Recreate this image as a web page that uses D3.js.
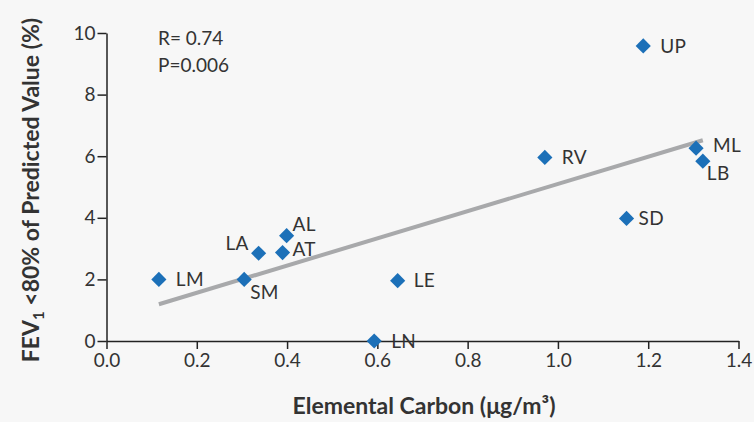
<!DOCTYPE html>
<html>
<head>
<meta charset="utf-8">
<script src="https://cdn.jsdelivr.net/npm/d3@7"></script>
<style>
  html, body { margin: 0; padding: 0; background: #f7f7f7; }
  svg { display: block; }
  text { font-family: Lato, "Open Sans", sans-serif; fill: #333; }
</style>
</head>
<body>
<svg id="chart" width="754" height="422"></svg>
<script>
// Sites, elemental carbon level and share of children with low FEV1
const sites = ["UP", "ML", "LB", "RV", "SD", "LE", "LN", "SM", "LM", "LA", "AT", "AL"];
const carbon = [1.189, 1.306, 1.321, 0.971, 1.152, 0.645, 0.593, 0.305, 0.116, 0.337, 0.390, 0.399];
const fevLow = [9.58, 6.26, 5.84, 5.96, 3.98, 1.96, 0.0, 2.0, 2.0, 2.85, 2.87, 3.42];

// Label placement per site: [dx, dy, anchor]
const labelPos = {
  UP: [17, 0, "start"], ML: [17, -3, "start"], LB: [4, 12, "start"],
  RV: [17, 0, "start"], SD: [12, 0, "start"], LE: [16, 0, "start"],
  LN: [17, 0, "start"], SM: [6, 13, "start"], LM: [17, 0, "start"],
  LA: [-10, -10, "end"], AT: [10, -3, "start"], AL: [6, -12, "start"]
};

const xTicks = [0.0, 0.2, 0.4, 0.6, 0.8, 1.0, 1.2, 1.4];
const yTicks = [0, 2, 4, 6, 8, 10];
const stats = ["R= 0.74", "P=0.006"];

const svg = d3.select("#chart");
const x = d3.scaleLinear().domain([0, 1.4]).range([106.5, 738.5]);
const y = d3.scaleLinear().domain([0, 10]).range([341, 33]);

// Axes
const xAxis = svg.append("g")
  .attr("transform", `translate(0,${y(0)})`)
  .call(d3.axisBottom(x).tickValues(xTicks).tickFormat(d3.format(".1f")).tickSizeInner(8).tickSizeOuter(0).tickPadding(5));
const yAxis = svg.append("g")
  .attr("transform", `translate(${x(0)},0)`)
  .call(d3.axisLeft(y).tickValues(yTicks).tickFormat(d3.format("d")).tickSizeInner(9).tickSizeOuter(0).tickPadding(2));

[xAxis, yAxis].forEach(g => {
  g.select(".domain").attr("stroke", "#222").attr("stroke-width", 1.5);
  g.selectAll(".tick line").attr("stroke", "#222").attr("stroke-width", 1.5);
  g.selectAll(".tick text").attr("font-size", 19).attr("fill", "#4a4a4a")
    .attr("font-family", "Lato, sans-serif");
});

// Least-squares trend line over the observed range
const mx = d3.mean(carbon), my = d3.mean(fevLow);
const slope = d3.sum(carbon, (c, i) => (c - mx) * (fevLow[i] - my)) / d3.sum(carbon, c => (c - mx) ** 2);
const intercept = my - slope * mx;
const [xmin, xmax] = d3.extent(carbon);
svg.append("line")
  .attr("x1", x(xmin)).attr("y1", y(intercept + slope * xmin))
  .attr("x2", x(xmax)).attr("y2", y(intercept + slope * xmax))
  .attr("stroke", "#a8a9ab").attr("stroke-width", 4);

// Diamond markers
const diamond = d3.symbol().type(d3.symbolSquare).size(115);
svg.append("g").selectAll("path")
  .data(sites)
  .join("path")
  .attr("d", diamond)
  .attr("transform", (d, i) => `translate(${x(carbon[i])},${y(fevLow[i])}) rotate(45)`)
  .attr("fill", "#1c70b8");

// Site labels
svg.append("g").selectAll("text")
  .data(sites)
  .join("text")
  .attr("x", (d, i) => x(carbon[i]) + labelPos[d][0])
  .attr("y", (d, i) => y(fevLow[i]) + labelPos[d][1])
  .attr("dy", "0.36em")
  .attr("text-anchor", d => labelPos[d][2])
  .attr("font-size", 19)
  .attr("letter-spacing", 0.3)
  .text(d => d);

// Correlation statistics
svg.append("g").selectAll("text")
  .data(stats)
  .join("text")
  .attr("x", 158)
  .attr("y", (d, i) => 45 + i * 27)
  .attr("font-size", 19)
  .text(d => d);

// Axis titles
svg.append("text")
  .attr("x", 424).attr("y", 414)
  .attr("text-anchor", "middle")
  .attr("font-size", 23).attr("font-weight", "bold")
  .text("Elemental Carbon (\u03BCg/m\u00B3)");

const yTitle = svg.append("text")
  .attr("transform", "translate(39,190) rotate(-90)")
  .attr("text-anchor", "middle")
  .attr("font-size", 23).attr("font-weight", "bold");
yTitle.append("tspan").text("FEV");
yTitle.append("tspan").attr("font-size", 15).attr("dy", 5).text("1");
yTitle.append("tspan").attr("dy", -5).text(" <80% of Predicted Value (%)");
</script>
</body>
</html>
